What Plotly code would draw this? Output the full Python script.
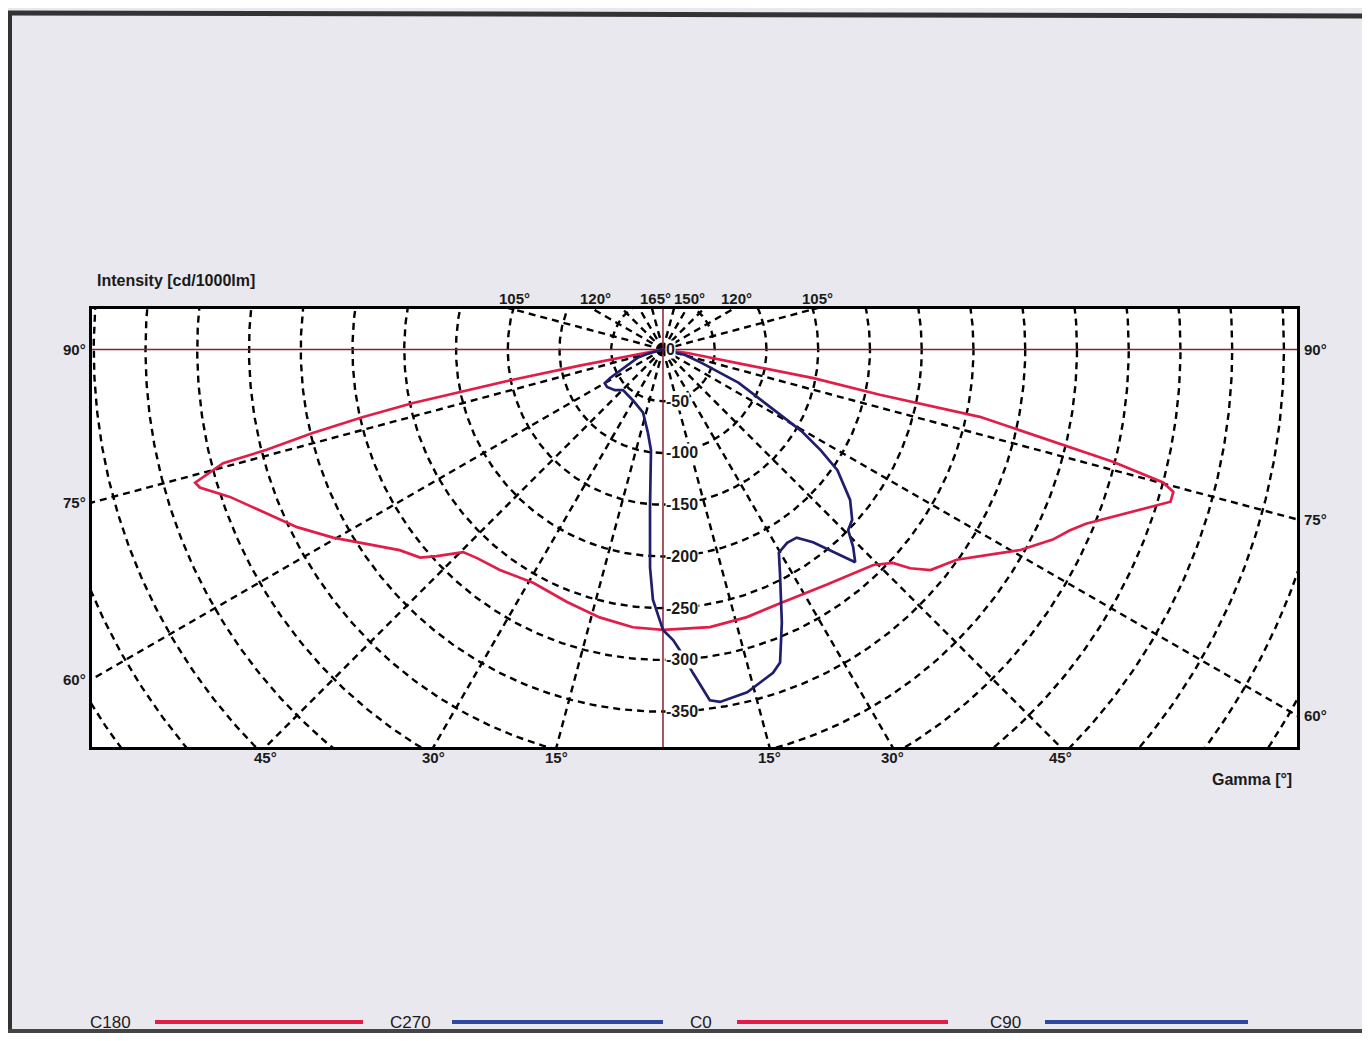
import numpy as np
import plotly.graph_objects as go

# luminous intensity distribution, gamma in degrees, intensity in cd/1000lm
c180_gamma = [0, 6.2, 13.3, 20.8, 29.1, 36.5, 41.7, 44.6, 47.6, 49.4, 52.7, 55.1, 60.3, 64.1,
              71.2, 73.4, 74.1, 75.5, 75.8, 76.6, 77.3, 77.9, 78.3, 78.6, 79.0, 80.0, 90]
c180_cd = [271, 270, 266, 261, 258, 265, 270, 275, 296, 309, 320, 333, 367, 393,
           442, 467, 470, 439, 395, 348, 297, 247, 181, 148, 82, 20, 0]

c0_gamma = [0, 9.6, 17.4, 24.8, 34.9, 44.3, 47.1, 48.5, 50.5, 54.4, 57.9, 60.7, 64.0, 66.0, 67.6,
            69.6, 72.1, 73.3, 74.4, 75.1, 76.0, 76.6, 78.0, 78.2, 79.2, 79.5, 81.7, 90]
c0_cd = [271, 272, 271, 270, 277, 291, 303, 319, 335, 349, 373, 396, 419, 430, 442,
         464, 495, 512, 512, 500, 448, 397, 313, 214, 148, 83, 24, 0]

c270_gamma = [0, 2.3, 3.4, 4.7, 6.8, 10.2, 17.5, 30.7, 44.6, 49.8, 56.2, 60.0, 61.7, 63.4,
              66.7, 71.9, 74, 80, 90]
c270_cd = [271, 242, 211, 153, 98, 82, 64, 57, 55, 61, 65, 65, 58, 49,
           38, 26, 16, 3, 0]

c90_gamma = [0, 2.0, 3.2, 5.3, 7.6, 9.2, 13.8, 18.8, 20.5, 23.5, 27.6, 29.7, 32.7, 35.4,
             37.9, 40.7, 42.1, 43.9, 45.7, 48.0, 51.2, 55.3, 57.4, 59.5, 62.0, 66.2, 70.7, 76, 90]
c90_cd = [271, 281, 291, 314, 342, 345, 341, 330, 323, 288, 244, 226, 222, 223,
          236, 262, 277, 265, 250, 246, 232, 205, 181, 155, 115, 80, 40, 22, 0]

circle_values = [50, 100, 150, 200, 250, 300, 350, 400, 450, 500, 550, 600, 650, 700, 750]
circle_labels = [0, 50, 100, 150, 200, 250, 300, 350]
side_angles = [90, 75, 60]
bottom_angles = [45, 30, 15]
top_left_angles = [105, 120, 165]
top_right_angles = [150, 120, 105]

RED = '#e11d48'
BLUE = '#1f1f6e'
MAROON = '#8b1d33'
FONT = 'Liberation Sans, Arial, sans-serif'

W, H = 1354, 1025
L, T, R, B = 84, 301, 1289, 739
XR = [-551.7, 612.6]
YR = [-384.1, 39.1]


def px(x):
    return (x - L) / (R - L)


def py(y):
    return (B - y) / (B - T)


def to_xy(gamma, cd, side):
    g = np.radians(np.array(gamma, dtype=float))
    r = np.array(cd, dtype=float)
    return side * r * np.sin(g), -r * np.cos(g)


fig = go.Figure()

grid = dict(color='black', width=2.4, dash='7px,5px')
t = np.linspace(0, 2 * np.pi, 721)
for r in circle_values:
    fig.add_trace(go.Scatter(x=r * np.cos(t), y=r * np.sin(t), mode='lines',
                             line=grid, hoverinfo='skip', showlegend=False))
for a in range(0, 360, 15):
    if a % 90 == 0:
        continue
    g = np.radians(a)
    fig.add_trace(go.Scatter(x=[0, 900 * np.sin(g)], y=[0, -900 * np.cos(g)], mode='lines',
                             line=grid, hoverinfo='skip', showlegend=False))

# main axes through the light centre
fig.add_trace(go.Scatter(x=[-900, 900], y=[0, 0], mode='lines',
                         line=dict(color=MAROON, width=1.5), hoverinfo='skip', showlegend=False))
fig.add_trace(go.Scatter(x=[0, 0], y=[-900, 900], mode='lines',
                         line=dict(color=MAROON, width=1.5), hoverinfo='skip', showlegend=False))

for name, gam, cd, side, col in [('C180', c180_gamma, c180_cd, -1, RED),
                                 ('C0', c0_gamma, c0_cd, 1, RED),
                                 ('C270', c270_gamma, c270_cd, -1, BLUE),
                                 ('C90', c90_gamma, c90_cd, 1, BLUE)]:
    x, y = to_xy(gam, cd, side)
    fig.add_trace(go.Scatter(x=x, y=y, mode='lines', name=name,
                             line=dict(color=col, width=2.7), showlegend=False))

lab = dict(family=FONT, size=15, color='#1a1a1a', weight='bold')
rlab = dict(family=FONT, size=16, color='#1a1a1a', weight='bold')
ann = []
for v in circle_labels:
    ann.append(dict(x=0, y=-v, xref='x', yref='y', text=str(v) if v == 0 else '-' + str(v),
                    showarrow=False, xanchor='left', yanchor='middle', xshift=2,
                    bgcolor='white', borderpad=0, font=rlab))
for a in side_angles:
    yl = 0 if a == 90 else XR[0] / np.tan(np.radians(a))
    yr = 0 if a == 90 else -XR[1] / np.tan(np.radians(a))
    ann.append(dict(x=0, y=yl, xref='paper', yref='y', text=f'{a}°', showarrow=False,
                    xanchor='right', yanchor='middle', xshift=-4, font=lab))
    ann.append(dict(x=1, y=yr, xref='paper', yref='y', text=f'{a}°', showarrow=False,
                    xanchor='left', yanchor='middle', xshift=5, font=lab))
for a in bottom_angles:
    d = -YR[0] * np.tan(np.radians(a))
    for s in (-1, 1):
        ann.append(dict(x=s * d, y=0, xref='x', yref='paper', text=f'{a}°', showarrow=False,
                        xanchor='center', yanchor='top', yshift=0, font=lab))
for angs, s in ((top_left_angles, -1), (top_right_angles, 1)):
    for a in angs:
        d = YR[1] * np.tan(np.radians(180 - a))
        ann.append(dict(x=s * d, y=1, xref='x', yref='paper', text=f'{a}°', showarrow=False,
                        xanchor='center', yanchor='bottom', xshift=3, yshift=0, font=lab))

ttl = dict(family=FONT, size=16, color='#1a1a1a', weight='bold')
ann.append(dict(x=px(87), y=py(272), xref='paper', yref='paper', text='Intensity [cd/1000lm]',
                showarrow=False, xanchor='left', yanchor='middle', font=ttl))
ann.append(dict(x=px(1286), y=py(771), xref='paper', yref='paper', text='Gamma [°]',
                showarrow=False, xanchor='right', yanchor='middle', font=ttl))

# legend row
legend_items = [('C180', RED, 80, 147, 355), ('C270', '#3148a0', 380, 444, 655),
                ('C0', RED, 680, 729, 940), ('C90', '#3148a0', 980, 1037, 1240)]
shapes = []
leg_font = dict(family=FONT, size=17, color='#1a1a1a')
for name, col, tx, x0, x1 in legend_items:
    ann.append(dict(x=px(tx), y=py(1014), xref='paper', yref='paper', text=name, showarrow=False,
                    xanchor='left', yanchor='middle', font=leg_font))
    shapes.append(dict(type='line', xref='paper', yref='paper', x0=px(x0), x1=px(x1),
                       y0=py(1014), y1=py(1014), line=dict(color=col, width=4)))

# scanned page edges
edge = dict(color='#333333', width=5)
shapes.append(dict(type='line', xref='paper', yref='paper', x0=px(0), x1=px(1362),
                   y0=py(5), y1=py(8), line=edge))
shapes.append(dict(type='line', xref='paper', yref='paper', x0=px(2), x1=px(2),
                   y0=py(5), y1=py(1025), line=dict(color='#333333', width=4)))
shapes.append(dict(type='line', xref='paper', yref='paper', x0=px(0), x1=px(1362),
                   y0=py(1023), y1=py(1023), line=dict(color='#444444', width=4)))

fig.update_layout(
    width=W, height=H,
    margin=dict(l=L, r=W - R, t=T, b=H - B, pad=0),
    paper_bgcolor='#e8e8ee', plot_bgcolor='white',
    annotations=ann, shapes=shapes, showlegend=False,
)
ax = dict(showgrid=False, zeroline=False, showticklabels=False, ticks='',
          showline=True, mirror=True, linecolor='black', linewidth=3, fixedrange=True)
fig.update_xaxes(range=XR, **ax)
fig.update_yaxes(range=YR, **ax)

fig.write_html("out.html")
